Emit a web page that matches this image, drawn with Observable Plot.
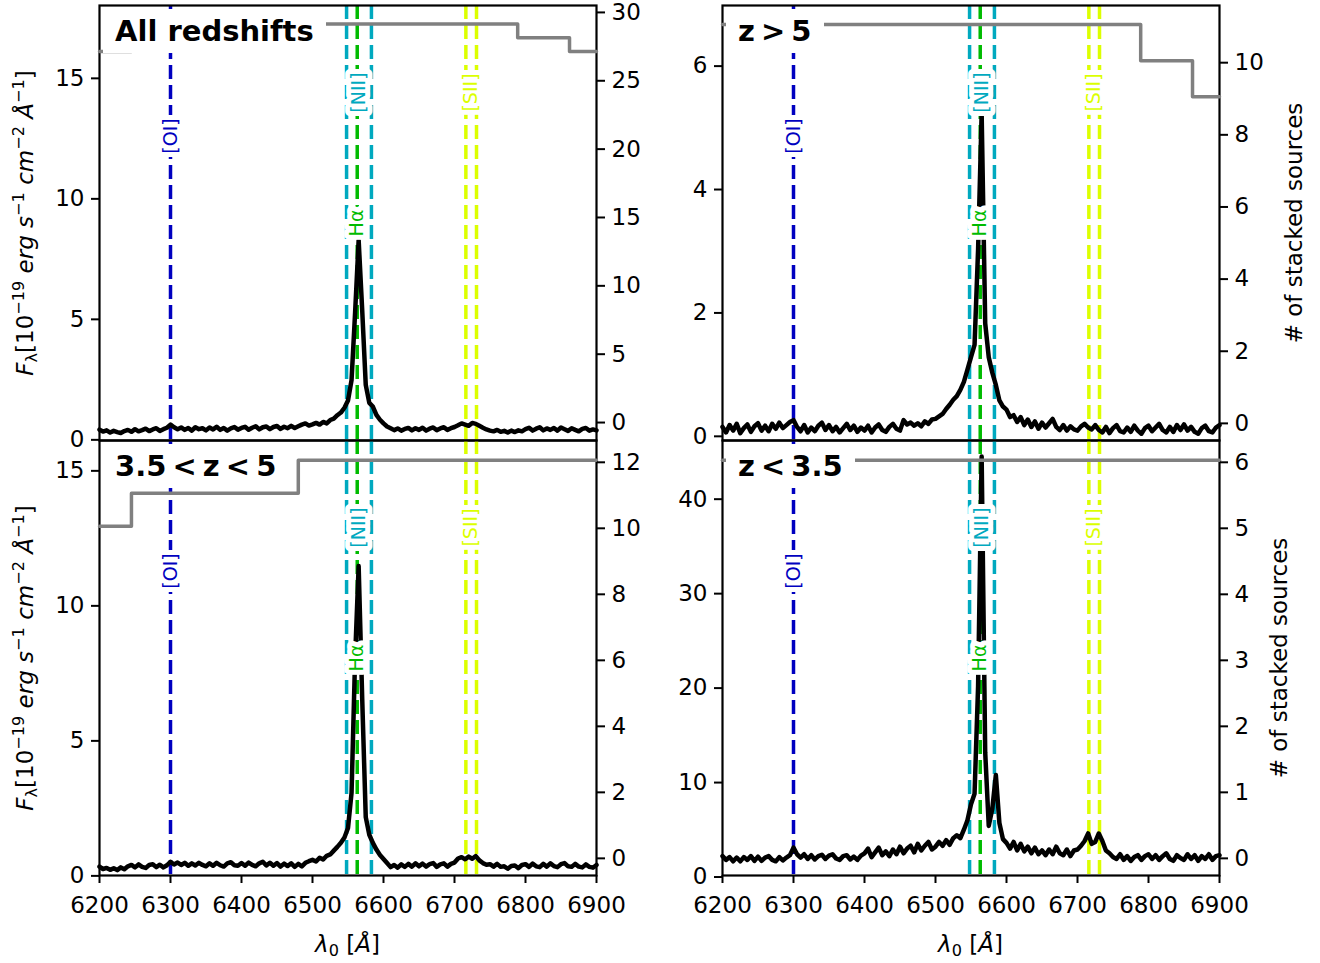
<!DOCTYPE html>
<html><head><meta charset="utf-8">
<script src="https://cdn.jsdelivr.net/npm/d3@7"></script>
<script src="https://cdn.jsdelivr.net/npm/@observablehq/plot@0.6"></script>
<style>
body{margin:0;background:#fff;}
#fig{position:relative;width:1320px;height:963px;font-family:"DejaVu Sans",sans-serif;color:#000;}
.layer{position:absolute;top:0;}
.layer svg{position:absolute;left:0;top:0;}
.title{position:absolute;background:#fff;font-weight:bold;font-size:29px;line-height:44px;height:44px;padding:0 12px;white-space:pre;z-index:5;}
.title.z{word-spacing:-4px;}
.rlab{position:absolute;transform:translate(-50%,-50%) rotate(-90deg);font-size:23px;line-height:1;white-space:nowrap;}
.blab{position:absolute;transform:translate(-50%,-50%);font-size:23px;line-height:1;white-space:nowrap;}
sup{font-size:0.7em;vertical-align:0.5em;line-height:0;}
sub{font-size:0.7em;vertical-align:-0.3em;line-height:0;}
</style></head>
<body><div id="fig"></div>
<script>
// ---- data ----
const wavelength = [
6200,6205,6210,6215,6220,6225,6230,6235,6240,6245,6250,6255,6260,6265,6270,6275,6280,6285,6290,6295,
6300,6305,6310,6315,6320,6325,6330,6335,6340,6345,6350,6355,6360,6365,6370,6375,6380,6385,6390,6395,
6400,6405,6410,6415,6420,6425,6430,6435,6440,6445,6450,6455,6460,6465,6470,6475,6480,6485,6490,6495,
6500,6505,6510,6515,6520,6525,6530,6535,6540,
6545,6550,6555,6560,6565,6570,6575,6580,6585,6590,6595,
6600,6605,6610,6615,6620,6625,6630,6635,6640,6645,6650,6655,6660,6665,6670,6675,6680,6685,6690,6695,
6700,6705,6710,6715,6720,6725,6730,6735,6740,6745,6750,6755,6760,6765,6770,6775,6780,6785,6790,6795,
6800,6805,6810,6815,6820,6825,6830,6835,6840,6845,6850,6855,6860,6865,6870,6875,6880,6885,6890,6895,6900];

const fluxAll = [
0.34,0.26,0.31,0.22,0.29,0.24,0.20,0.28,0.33,0.25,0.36,0.27,0.32,0.38,0.28,0.35,0.40,0.29,0.36,0.42,
0.55,0.44,0.36,0.43,0.33,0.41,0.30,0.44,0.36,0.40,0.31,0.43,0.35,0.46,0.33,0.41,0.30,0.39,0.45,0.34,
0.41,0.46,0.34,0.42,0.48,0.35,0.44,0.47,0.36,0.45,0.49,0.37,0.46,0.40,0.50,0.41,0.48,0.55,0.60,0.51,
0.56,0.62,0.55,0.66,0.60,0.74,0.80,0.94,1.05,
1.25,1.55,2.4,5.2,8.2,5.3,2.2,1.45,1.3,0.95,0.75,
0.60,0.47,0.40,0.32,0.39,0.30,0.37,0.41,0.31,0.40,0.33,0.42,0.30,0.38,0.43,0.32,0.39,0.44,0.33,0.40,
0.45,0.52,0.60,0.55,0.50,0.62,0.58,0.50,0.42,0.35,0.30,0.27,0.33,0.25,0.29,0.22,0.30,0.24,0.31,0.27,
0.36,0.42,0.30,0.38,0.44,0.31,0.39,0.33,0.41,0.30,0.43,0.36,0.29,0.40,0.33,0.27,0.37,0.41,0.30,0.35,0.31];

const fluxHighZ = [
0.12,0.03,0.15,0.06,0.17,0.02,0.10,0.16,0.04,0.13,0.18,0.06,0.14,0.05,0.17,0.09,0.19,0.10,0.15,0.20,
0.23,0.12,0.05,0.15,0.03,0.11,0.05,0.14,0.19,0.07,0.15,0.05,0.12,0.03,0.10,0.17,0.07,0.14,0.04,0.11,
0.06,0.14,0.03,0.11,0.16,0.07,0.04,0.12,0.17,0.09,0.06,0.23,0.16,0.19,0.14,0.18,0.13,0.21,0.17,0.24,
0.25,0.29,0.33,0.41,0.48,0.56,0.62,0.72,0.85,
1.05,1.25,1.45,3.0,5.2,1.8,1.25,1.0,0.8,0.55,0.45,
0.40,0.28,0.31,0.20,0.28,0.15,0.24,0.12,0.21,0.09,0.19,0.11,0.18,0.25,0.12,0.07,0.15,0.06,0.13,0.08,
0.06,0.13,0.17,0.11,0.08,0.15,0.07,0.03,0.12,0.02,0.10,0.15,0.05,0.03,0.11,0.04,0.14,0.06,0.01,0.10,
0.14,0.05,0.11,0.17,0.07,0.03,0.12,0.04,0.15,0.07,0.16,0.06,0.12,0.04,0.01,0.10,0.14,0.05,0.03,0.11,0.15];

const fluxMidZ = [
0.27,0.18,0.22,0.15,0.21,0.14,0.24,0.17,0.28,0.33,0.24,0.35,0.26,0.22,0.33,0.36,0.25,0.34,0.24,0.32,
0.45,0.35,0.42,0.33,0.41,0.30,0.39,0.31,0.41,0.33,0.28,0.39,0.30,0.41,0.32,0.27,0.39,0.43,0.32,0.30,
0.40,0.30,0.42,0.33,0.28,0.39,0.45,0.31,0.41,0.30,0.40,0.27,0.38,0.29,0.39,0.26,0.37,0.28,0.41,0.47,
0.52,0.46,0.60,0.53,0.67,0.72,0.86,1.0,1.15,
1.35,1.7,3.0,8.0,11.4,6.5,2.1,1.45,1.15,0.9,0.7,
0.55,0.40,0.25,0.33,0.23,0.35,0.26,0.37,0.27,0.39,0.28,0.38,0.27,0.36,0.40,0.26,0.35,0.39,0.27,0.37,
0.42,0.57,0.62,0.54,0.64,0.56,0.66,0.50,0.40,0.34,0.36,0.27,0.37,0.26,0.28,0.19,0.29,0.31,0.21,0.33,
0.36,0.26,0.38,0.28,0.25,0.37,0.27,0.39,0.29,0.25,0.36,0.40,0.28,0.26,0.37,0.27,0.24,0.35,0.26,0.23,0.33];

const fluxLowZ = [
2.0,1.6,1.9,1.45,1.85,1.45,1.9,1.6,2.0,1.5,1.95,1.5,1.85,2.0,1.6,1.45,1.9,1.55,1.85,2.1,
2.9,2.2,1.85,2.2,1.7,2.1,1.65,2.0,2.15,1.7,2.05,2.2,1.75,1.6,2.0,2.1,1.65,1.95,1.6,2.05,
2.3,2.8,1.9,2.4,2.9,2.1,2.5,2.0,2.7,2.2,3.0,2.3,2.8,3.1,2.4,3.3,2.6,3.1,3.5,2.7,
3.0,3.5,3.1,3.7,3.2,3.9,4.2,3.9,4.8,
5.8,7.5,8.6,20.0,44.3,13.0,5.2,7.0,10.6,5.5,3.8,
3.4,2.8,3.5,2.6,3.3,2.5,3.0,2.3,2.9,2.2,2.6,2.1,2.7,2.2,3.0,2.3,2.1,2.7,2.0,2.6,
2.7,3.1,3.6,4.4,3.3,3.5,4.4,3.6,2.6,2.3,1.9,1.7,2.2,1.6,2.0,1.5,1.9,2.1,1.6,2.0,
2.2,1.7,2.1,1.6,2.0,2.3,1.7,1.5,2.1,1.8,1.6,2.2,1.7,2.1,1.5,2.0,1.7,2.2,1.6,2.0,2.1];

// number of stacked sources (step changes)
const stepWaveAll = [6200, 6245, 6480, 6789, 6862, 6900];
const nAll        = [27, 28, 29, 28, 27, 27];
const stepWaveHigh = [6200, 6789, 6862, 6900];
const nHigh        = [11, 10, 9, 9];
const stepWaveMid = [6200, 6245, 6480, 6900];
const nMid        = [10, 11, 12, 12];
const stepWaveLow = [6200, 6900];
const nLow        = [6, 6];

// emission lines
const lineWaves  = [6300, 6548, 6563, 6583, 6716, 6731];
const lineColors = ["#0000c0", "#00a9bf", "#00bb00", "#00a9bf", "#dcff00", "#dcff00"];
const labelNames = ["[OI]", "[NII]", "H\u03b1", "[SII]"];
const labelWaves = [[6300], [6548, 6583], [6563], [6716, 6731]];
const labelColors = ["#0000c0", "#00a9bf", "#00bb00", "#dcff00"];
const labelFracFromTop = [0.30, 0.20, 0.50, 0.20];

// axes
const xDomain = [6200, 6900];
const xTicks = [6200, 6300, 6400, 6500, 6600, 6700, 6800, 6900];
const titles = ["All redshifts", "z > 5", "3.5 < z < 5", "z < 3.5"];

const panels = [
  {col:0,row:0,title:titles[0],flux:fluxAll,  stepW:stepWaveAll, stepN:nAll,  yDom:[-0.11,17.94], yTicks:[0,5,10,15],    nDom:[-1.46,30.36], nTicks:[0,5,10,15,20,25,30]},
  {col:1,row:0,title:titles[1],flux:fluxHighZ,stepW:stepWaveHigh,stepN:nHigh, yDom:[-0.10,6.95],  yTicks:[0,2,4,6],       nDom:[-0.53,11.53], nTicks:[0,2,4,6,8,10]},
  {col:0,row:1,title:titles[2],flux:fluxMidZ, stepW:stepWaveMid, stepN:nMid,  yDom:[-0.06,16.05], yTicks:[0,5,10,15],    nDom:[-0.58,12.6],  nTicks:[0,2,4,6,8,10,12]},
  {col:1,row:1,title:titles[3],flux:fluxLowZ, stepW:stepWaveLow, stepN:nLow,  yDom:[-0.05,46.0],  yTicks:[0,10,20,30,40], nDom:[-0.29,6.3],   nTicks:[0,1,2,3,4,5,6]}
];

const fig = document.getElementById("fig");
const lineData = lineWaves.map((w,i)=>({wave:w, color:lineColors[i]}));
const fmt = d => String(d);
const tickFont = 23;

panels.forEach(p => {
  const left = p.col===0 ? 0 : 660;
  const mL = p.col===0 ? 99 : 62, mR = p.col===0 ? 64 : 101;
  const mT = p.row===0 ? 5 : 440, mB = p.row===0 ? 523 : 88;
  const spec = wavelength.map((w,i)=>({w, f:p.flux[i]}));
  const steps = p.stepW.map((w,i)=>({w, n:p.stepN[i]}));
  const [y0,y1] = p.yDom;
  const labels = labelNames.map((name,i)=>({name, x:d3.mean(labelWaves[i]), y:y1 - labelFracFromTop[i]*(y1-y0), color:labelColors[i]}));
  const common = {width:660, height:963, marginLeft:mL, marginRight:mR, marginTop:mT, marginBottom:mB,
    style:{background:"transparent", overflow:"visible", fontFamily:"DejaVu Sans, sans-serif", color:"black"}};

  const mainMarks = [
    Plot.ruleX(lineData, {x:"wave", stroke:"color", strokeWidth:3.5, strokeDasharray:"14,6"}),
    Plot.line(spec, {x:"w", y:"f", stroke:"black", strokeWidth:4.5, strokeLinejoin:"round"}),
    Plot.text(labels, {x:"x", y:"y", text:"name", fill:"color", rotate:-90, fontSize:19,
      stroke:"white", strokeWidth:10, paintOrder:"stroke", strokeLinejoin:"round"}),
    Plot.axisY({anchor:"left", ticks:p.yTicks, tickFormat:fmt, tickSize:8, tickPadding:7, fontSize:tickFont, strokeWidth:2, dy:2, label:null})
  ];
  if (p.row===1) mainMarks.push(Plot.axisX({ticks:xTicks, tickSize:8, tickPadding:13, fontSize:tickFont, strokeWidth:2, tickFormat:fmt, label:null}));
  mainMarks.push(Plot.frame({stroke:"black", strokeWidth:2.2}));

  const main = Plot.plot({...common,
    x:{domain:xDomain, ...(p.row===0 ? {axis:null} : {})},
    y:{domain:p.yDom},
    color:{type:"identity"},
    marks: mainMarks});

  const twin = Plot.plot({...common,
    x:{domain:xDomain, axis:null},
    y:{domain:p.nDom},
    marks:[
      Plot.line(steps, {x:"w", y:"n", curve:"step-after", stroke:"#808080", strokeWidth:3.5}),
      Plot.axisY({anchor:"right", ticks:p.nTicks, tickFormat:fmt, tickSize:8, tickPadding:7, fontSize:tickFont, strokeWidth:2, dy:2, label:null})
    ]});

  const layer = document.createElement("div");
  layer.className = "layer";
  layer.style.left = left + "px";
  layer.style.width = "660px";
  layer.style.height = "963px";
  layer.appendChild(main);
  layer.appendChild(twin);
  fig.appendChild(layer);

  const t = document.createElement("div");
  t.className = "title" + (p.row===0 && p.col===0 ? "" : " z");
  t.textContent = p.title;
  t.style.left = (left + mL + 4) + "px";
  t.style.top = (mT + 4) + "px";
  fig.appendChild(t);

  const frameCenterX = left + mL + (660 - mL - mR)/2;
  const frameCenterY = mT + (963 - mT - mB)/2;
  if (p.col===0) {
    const l = document.createElement("div");
    l.className = "rlab";
    l.innerHTML = '<i>F</i><sub>\u03bb</sub>[10<sup>\u221219</sup> <i>erg</i> <i>s</i><sup>\u22121</sup> <i>cm</i><sup>\u22122</sup> <i>\u00c5</i><sup>\u22121</sup>]';
    l.style.left = "25px";
    l.style.top = frameCenterY + "px";
    fig.appendChild(l);
  } else {
    const r = document.createElement("div");
    r.className = "rlab";
    r.textContent = "# of stacked sources";
    r.style.left = (p.row===0 ? 1294 : 1279) + "px";
    r.style.top = frameCenterY + "px";
    fig.appendChild(r);
  }
  if (p.row===1) {
    const b = document.createElement("div");
    b.className = "blab";
    b.innerHTML = '<i>\u03bb</i><sub>0</sub> [<i>\u00c5</i>]';
    b.style.left = frameCenterX + "px";
    b.style.top = "944px";
    fig.appendChild(b);
  }
});
</script>
</body></html>
